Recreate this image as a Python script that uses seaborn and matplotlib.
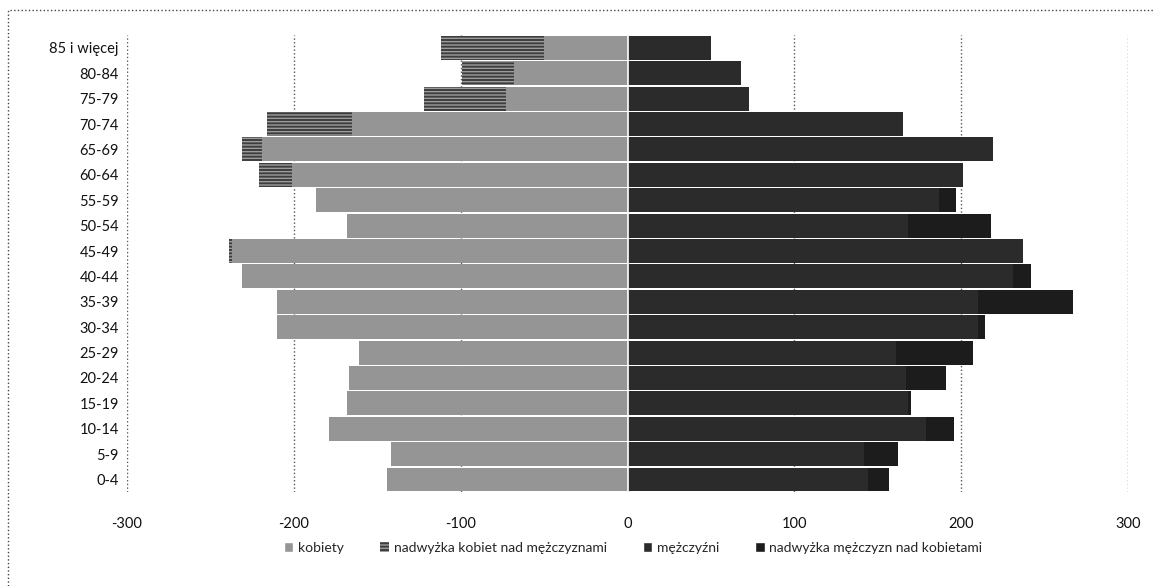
import numpy as np
import pandas as pd
import matplotlib
matplotlib.use("Agg")
import matplotlib.pyplot as plt
from matplotlib.patches import Patch, Rectangle
import seaborn as sns

# age groups, from the bottom of the pyramid to the top
ages = ["0-4", "5-9", "10-14", "15-19", "20-24", "25-29", "30-34", "35-39",
        "40-44", "45-49", "50-54", "55-59", "60-64", "65-69", "70-74",
        "75-79", "80-84", "85 i więcej"]
kobiety = [144, 142, 179, 168, 167, 161, 210, 210, 231, 239, 168, 187,
           221, 231, 216, 122, 99, 112]
mezczyzni = [157, 162, 196, 170, 191, 207, 214, 267, 242, 237, 218, 197,
             201, 219, 165, 73, 68, 50]

legend_labels = ["kobiety", "nadwyżka kobiet nad mężczyznami",
                 "mężczyźni", "nadwyżka mężczyzn nad kobietami"]
colors = ["#959595", "#3e3e3e", "#2b2b2b", "#1c1c1c"]

df = pd.DataFrame({"wiek": ages, "k": kobiety, "m": mezczyzni})
df["wspolne"] = df[["k", "m"]].min(axis=1)
order = ages[::-1]  # seaborn puts the first category at the top

sns.set_theme(style="white")
plt.rcParams["font.family"] = ["Lato", "DejaVu Sans"]
plt.rcParams["axes.unicode_minus"] = False

fig, ax = plt.subplots(figsize=(11.55, 5.86), dpi=100)
fig.subplots_adjust(left=0.110, right=0.9766, top=0.94, bottom=0.16)

# women: whole bar first (excess colour), common part drawn over it
sns.barplot(x=-df["k"], y=df["wiek"], order=order, orient="h", width=0.94,
            color=colors[1], saturation=1, hatch="-----",
            edgecolor="#9c9c9c", linewidth=0, ax=ax)
sns.barplot(x=-df["wspolne"], y=df["wiek"], order=order, orient="h", width=0.94,
            color=colors[0], saturation=1, linewidth=0, ax=ax)
# men: same trick on the right side
sns.barplot(x=df["m"], y=df["wiek"], order=order, orient="h", width=0.94,
            color=colors[3], saturation=1, linewidth=0, ax=ax)
sns.barplot(x=df["wspolne"], y=df["wiek"], order=order, orient="h", width=0.94,
            color=colors[2], saturation=1, linewidth=0, ax=ax)

ax.axvline(0, color="white", lw=1.2, zorder=5)
ax.set_xlim(-300, 300)
ax.set_ylim(len(ages) - 0.5, -0.5)
ax.set_xticks(range(-300, 301, 100))
ax.set_xlabel("")
ax.set_ylabel("")
ax.grid(axis="x", linestyle=":", color="#555555", linewidth=1)
ax.set_axisbelow(True)
sns.despine(left=True, bottom=True)
ax.tick_params(axis="x", length=0, pad=18, labelsize=10.5, colors="#111111")
ax.tick_params(axis="y", length=0, pad=6, labelsize=10.5, colors="#111111")

handles = [Patch(facecolor=colors[0]),
           Patch(facecolor=colors[1], hatch="-----", edgecolor="#9c9c9c", linewidth=0),
           Patch(facecolor=colors[2]),
           Patch(facecolor=colors[3])]
fig.legend(handles, legend_labels, loc="center", bbox_to_anchor=(0.548, 0.065),
           ncol=4, frameon=False, fontsize=10, handlelength=0.7, handleheight=0.7,
           handletextpad=0.3, columnspacing=2.6)

# dotted frame around the whole chart
fig.patches.append(Rectangle((0.007, -0.1), 1.2, 1.083, transform=fig.transFigure,
                             fill=False, linestyle=":", edgecolor="#444444", lw=1))

fig.savefig("out.png", dpi=100)
